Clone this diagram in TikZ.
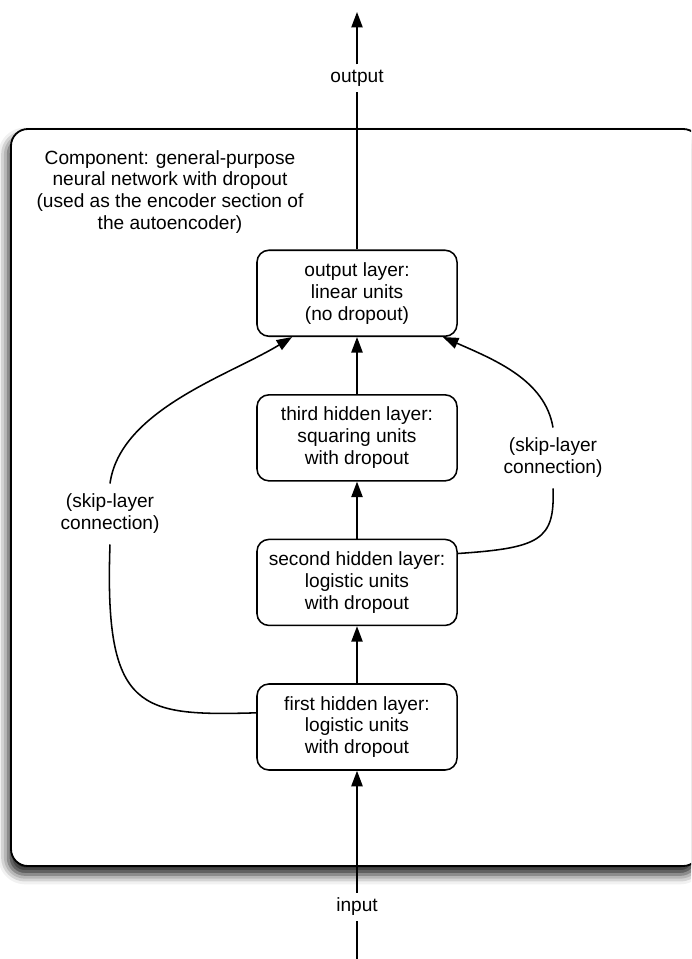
\documentclass[tikz,border=0pt]{standalone}
\usepackage{fontspec}
\setmainfont{Liberation Sans}
\usetikzlibrary{arrows.meta,positioning,shadows.blur}

\begin{document}
\begin{tikzpicture}[x=0.025cm,y=-0.025cm,>={Triangle[length=11pt,width=8pt,fill=black]},line width=1.1pt,
  node distance=1.425cm,font=\fontsize{13.6}{15.6}\selectfont]
\tikzstyle{layer}=[draw,rounded corners=8.5pt,fill=white,minimum width=5cm,minimum height=2.15cm,align=center,inner sep=2pt]
\tikzstyle{lbl}=[fill=white,align=center]
\tikzstyle{skiplbl}=[align=center,inner sep=7pt]
\clip (0,0) rectangle (691,959);
% component frame
\draw[rounded corners=12pt,line width=1.3pt,fill=white,
  blur shadow={shadow xshift=-2pt,shadow yshift=-6pt,shadow blur radius=7pt,shadow opacity=90}]
  (11,129) rectangle (700,866);
\node[align=center] (cap) at (170,192) {Component: general-purpose\\neural network with dropout\\(used as the encoder section of\\the autoencoder)};
% layers
\node[layer] (h1) at (357,727) {first hidden layer:\\logistic units\\with dropout};
\node[layer] (h2) [above=of h1] {second hidden layer:\\logistic units\\with dropout};
\node[layer] (h3) [above=of h2] {third hidden layer:\\squaring units\\with dropout};
\node[layer] (ol) [above=of h3] {output layer:\\linear units\\(no dropout)};
% outside labels
\node[lbl] (outlbl) at (357,78) {output};
\coordinate (top) at (357,12);
\node[lbl] (inlbl) at (357,907) {input};
\coordinate (bot) at (357,959);
\node[skiplbl] (skipl) at (110,514) {(skip-layer\\connection)};
\node[skiplbl] (skipr) at (553,458) {(skip-layer\\connection)};
\path[->]
  (h1) edge (h2)
  (h2) edge (h3)
  (h3) edge (ol);
\draw (ol) -- (outlbl);
\draw[->] (outlbl) -- (top);
\draw (bot) -- (inlbl);
\draw[->] (inlbl) -- (h1);
% skip-layer connections
\draw (h1.172) .. controls (140,716) and (104,712) .. (skipl.south);
\draw[->] (skipl.north) .. controls (120,410) and (230,375) .. (ol.214);
\draw (h2.16) .. controls (540,548) and (555,540) .. (skipr.south);
\draw[->] (skipr.north) .. controls (545,380) and (495,360) .. (ol.-27);
\end{tikzpicture}
\end{document}
